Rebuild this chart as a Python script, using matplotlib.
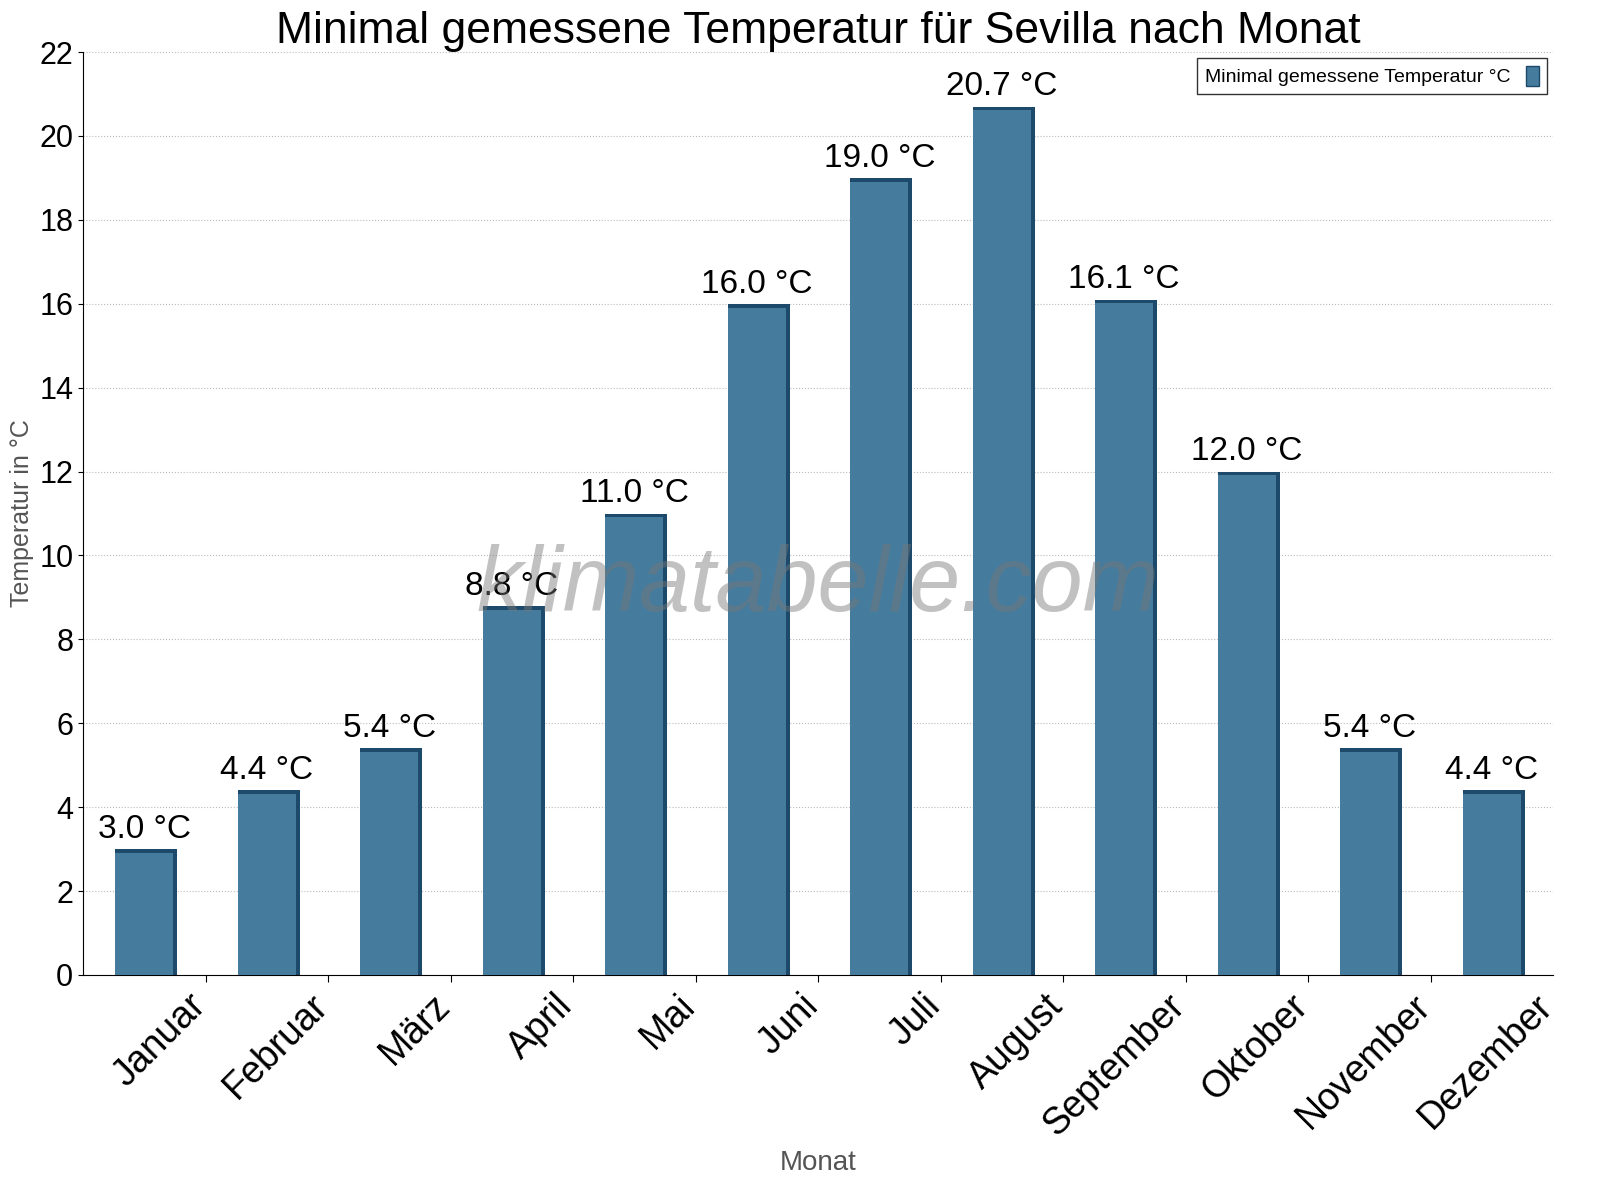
import matplotlib
matplotlib.use("Agg")
import matplotlib.pyplot as plt
import numpy as np
from matplotlib.patches import Patch

months = ["Januar","Februar","März","April","Mai","Juni","Juli","August","September","Oktober","November","Dezember"]
values = [3.0,4.4,5.4,8.8,11.0,16.0,19.0,20.7,16.1,12.0,5.4,4.4]

plt.rcParams["font.family"] = "Liberation Sans"
fig = plt.figure(figsize=(16,12), dpi=100)
ax = fig.add_axes([83/1600, 1-975/1200, 1470/1600, 923/1200])
x = np.arange(len(months))
w = 0.47
dark = "#1d4a6b"
face = "#457b9d"
ax.bar(x+0.035, values, w, color=dark, zorder=2)
ax.bar(x, values, w, color=face, zorder=3)
ax.bar(x, [0.09]*12, w, bottom=[v-0.09 for v in values], color=dark, zorder=4)
for xi, v in zip(x, values):
    ax.text(xi, v+0.1, f"{v:.1f} °C", ha="center", va="bottom", fontsize=24, zorder=5)
ax.set_xlim(-0.5, 11.5)
ax.set_ylim(0, 22)
ax.set_yticks(range(0, 23, 2))
ax.tick_params(axis="y", labelsize=22)
ax.set_xticks(np.arange(0.5, 11.5, 1))
ax.set_xticklabels([])
ax.tick_params(axis="x", length=5)
for xi, m in zip(x, months):
    ax.text(xi+0.35, -0.3, m, rotation=45, ha="right", va="top", fontsize=27,
            rotation_mode="anchor")
ax.grid(axis="y", linestyle=":", color="#bbbbbb", zorder=0)
for s in ["top","right"]:
    ax.spines[s].set_visible(False)
ax.set_ylabel("Temperatur in °C", fontsize=18, color="#555555")
ax.text(0.5, -0.19, "Monat", transform=ax.transAxes, ha="center", va="top", fontsize=20, color="#555555")
ax.set_title("Minimal gemessene Temperatur für Sevilla nach Monat", fontsize=32, pad=6)
ax.text(0.5, 0.42, "klimatabelle.com", transform=ax.transAxes, ha="center", va="center",
        fontsize=66, style="italic", color="#777777", alpha=0.45, zorder=6)
ax.legend(handles=[Patch(facecolor=face, edgecolor=dark)], labels=["Minimal gemessene Temperatur °C"],
          loc="upper right", fontsize=14, frameon=True, fancybox=False, edgecolor="black",
          handlelength=0.7, handleheight=1.2, markerfirst=False, borderaxespad=0.3)
fig.savefig("out.png", dpi=100)
